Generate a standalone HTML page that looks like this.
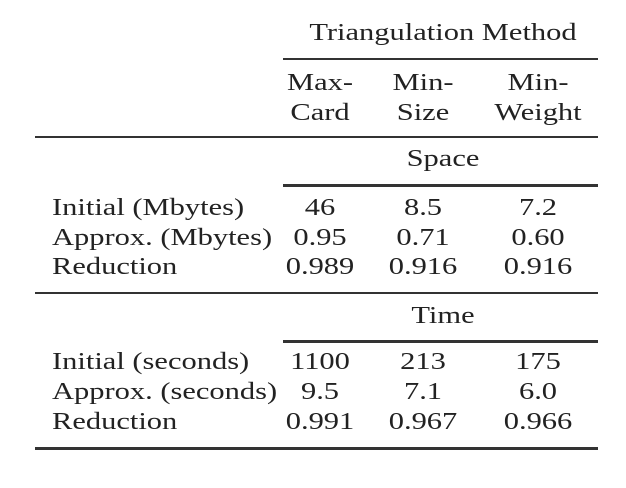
<!DOCTYPE html>
<html><head><meta charset="utf-8"><style>
body{margin:0;width:626px;height:488px;background:#fff;position:relative;overflow:hidden;font-family:"Liberation Serif",serif;color:#222;}
.t{position:absolute;font-size:24px;white-space:nowrap;line-height:1;transform:scaleX(1.27);transform-origin:left center;}
.c{transform:translateX(-50%) scaleX(1.27);transform-origin:center center;}
.l{position:absolute;background:#333;}
</style></head><body>
<div class="t c" style="left:443px;top:21px">Triangulation Method</div>
<div class="l" style="left:283px;top:58px;width:315px;height:2px"></div>
<div class="t c" style="left:320px;top:68px;text-align:center;line-height:30px">Max-<br>Card</div>
<div class="t c" style="left:423px;top:68px;text-align:center;line-height:30px">Min-<br>Size</div>
<div class="t c" style="left:538px;top:68px;text-align:center;line-height:30px">Min-<br>Weight</div>
<div class="l" style="left:35px;top:136px;width:563px;height:2px"></div>
<div class="t c" style="left:443px;top:147px">Space</div>
<div class="l" style="left:283px;top:184px;width:315px;height:3px"></div>

<div class="t" style="left:52px;top:196px">Initial (Mbytes)</div>
<div class="t" style="left:52px;top:226px">Approx. (Mbytes)</div>
<div class="t" style="left:52px;top:255px">Reduction</div>
<div class="t c" style="left:320px;top:196px">46</div>
<div class="t c" style="left:423px;top:196px">8.5</div>
<div class="t c" style="left:538px;top:196px">7.2</div>
<div class="t c" style="left:320px;top:226px">0.95</div>
<div class="t c" style="left:423px;top:226px">0.71</div>
<div class="t c" style="left:538px;top:226px">0.60</div>
<div class="t c" style="left:320px;top:255px">0.989</div>
<div class="t c" style="left:423px;top:255px">0.916</div>
<div class="t c" style="left:538px;top:255px">0.916</div>

<div class="l" style="left:35px;top:292px;width:563px;height:2px"></div>
<div class="t c" style="left:443px;top:304px">Time</div>
<div class="l" style="left:283px;top:340px;width:315px;height:3px"></div>

<div class="t" style="left:52px;top:350px">Initial (seconds)</div>
<div class="t" style="left:52px;top:380px">Approx. (seconds)</div>
<div class="t" style="left:52px;top:410px">Reduction</div>
<div class="t c" style="left:320px;top:350px">1100</div>
<div class="t c" style="left:423px;top:350px">213</div>
<div class="t c" style="left:538px;top:350px">175</div>
<div class="t c" style="left:320px;top:380px">9.5</div>
<div class="t c" style="left:423px;top:380px">7.1</div>
<div class="t c" style="left:538px;top:380px">6.0</div>
<div class="t c" style="left:320px;top:410px">0.991</div>
<div class="t c" style="left:423px;top:410px">0.967</div>
<div class="t c" style="left:538px;top:410px">0.966</div>
<div class="l" style="left:35px;top:447px;width:563px;height:3px"></div>
</body></html>
